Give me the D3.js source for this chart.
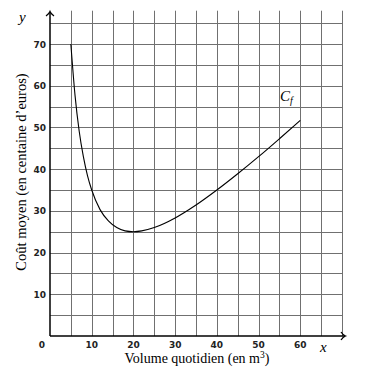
<!DOCTYPE html>
<html>
<head>
<meta charset="utf-8">
<script src="https://cdn.jsdelivr.net/npm/d3@7"></script>
<style>
  html, body { margin: 0; padding: 0; background: #fff; }
  svg { display: block; }
</style>
</head>
<body>
<div id="app"></div>
<script>
// Values
const volumes = [5, 6, 7, 8, 9, 10, 12, 14, 16, 18, 20, 22, 25, 30, 35, 40, 45, 50, 55, 60];
const costs   = [70, 57.7, 49.1, 43, 38.4, 35, 30.3, 27.6, 26, 25.2, 25, 25.2, 26, 28.3, 31.4, 35, 38.9, 43, 47.3, 51.7];
const xTicks = [10, 20, 30, 40, 50, 60];
const yTicks = [10, 20, 30, 40, 50, 60, 70];
const xGrid = d3.range(0, 71, 5);
const yGrid = d3.range(0, 76, 5);

const width = 371, height = 378;
const serif = "'Liberation Serif', 'DejaVu Serif', serif";
const sans = "'DejaVu Sans', sans-serif";

const svg = d3.select("#app").append("svg")
  .attr("width", width)
  .attr("height", height);

const x = d3.scaleLinear().domain([0, 70]).range([50, 342]);
const y = d3.scaleLinear().domain([0, 78]).range([336, 10.7]);

// grid
const grid = svg.append("g").attr("stroke", "#707070").attr("stroke-width", 1);
grid.selectAll("line.v")
  .data(xGrid.filter(d => d > 0))
  .join("line")
    .attr("class", "v")
    .attr("x1", d => Math.round(x(d)) + 0.5).attr("x2", d => Math.round(x(d)) + 0.5)
    .attr("y1", y(0)).attr("y2", y(78));
grid.selectAll("line.h")
  .data(yGrid.filter(d => d > 0))
  .join("line")
    .attr("class", "h")
    .attr("y1", d => Math.round(y(d)) + 0.5).attr("y2", d => Math.round(y(d)) + 0.5)
    .attr("x1", x(0)).attr("x2", x(70));

// axes with arrows
const axes = svg.append("g").attr("stroke", "#000").attr("stroke-width", 1.5).attr("fill", "none");
axes.append("line").attr("x1", x(0)).attr("x2", 345).attr("y1", y(0)).attr("y2", y(0));
axes.append("line").attr("x1", x(0)).attr("x2", x(0)).attr("y1", y(0)).attr("y2", 12);
axes.append("path").attr("stroke-width", 1.3)
  .attr("d", `M${345 - 4},${y(0) - 4} Q${343},${y(0) - 1} ${345.5},${y(0)} Q${343},${y(0) + 1} ${345 - 4},${y(0) + 4}`);
axes.append("path").attr("stroke-width", 1.3)
  .attr("d", `M${x(0) - 4},16 Q${x(0) - 1},14 ${x(0)},11.5 Q${x(0) + 1},14 ${x(0) + 4},16`);

// tick labels
const tl = svg.append("g").attr("font-family", sans).attr("font-weight", "bold")
  .attr("font-size", 9).attr("fill", "#222");
tl.selectAll("text.x")
  .data(xTicks)
  .join("text")
    .attr("class", "x")
    .attr("x", d => x(d)).attr("y", 348)
    .attr("text-anchor", "middle")
    .text(d => d);
tl.append("text").attr("x", 42).attr("y", 348).attr("text-anchor", "middle").text("0");
tl.selectAll("text.y")
  .data(yTicks)
  .join("text")
    .attr("class", "y")
    .attr("x", 46).attr("y", d => y(d) + 3.5)
    .attr("text-anchor", "end")
    .text(d => d);

// curve
const pts = volumes.map((v, i) => [v, costs[i]]);
svg.append("path")
  .datum(pts)
  .attr("fill", "none")
  .attr("stroke", "#000")
  .attr("stroke-width", 1.1)
  .attr("d", d3.line().x(d => x(d[0])).y(d => y(d[1])).curve(d3.curveMonotoneX));

// labels
svg.append("text")
  .attr("x", 19).attr("y", 22)
  .attr("font-family", serif).attr("font-style", "italic").attr("font-size", 15)
  .text("y");
svg.append("text")
  .attr("x", 320).attr("y", 352)
  .attr("font-family", serif).attr("font-style", "italic").attr("font-size", 15)
  .text("x");

const cf = svg.append("text")
  .attr("x", 280).attr("y", 101)
  .attr("font-family", serif).attr("font-style", "italic").attr("font-size", 15);
cf.append("tspan").text("C");
cf.append("tspan").attr("font-size", 10).attr("dy", 3).text("f");

const xt = svg.append("text")
  .attr("x", 197).attr("y", 363)
  .attr("text-anchor", "middle")
  .attr("font-family", serif).attr("font-size", 14);
xt.append("tspan").text("Volume quotidien (en m");
xt.append("tspan").attr("font-size", 9.5).attr("dy", -5.5).text("3");
xt.append("tspan").attr("dy", 5.5).text(")");

svg.append("text")
  .attr("transform", "translate(26,172) rotate(-90)")
  .attr("text-anchor", "middle")
  .attr("font-family", serif).attr("font-size", 14.5)
  .text("Coût moyen (en centaine d’euros)");
</script>
</body>
</html>
